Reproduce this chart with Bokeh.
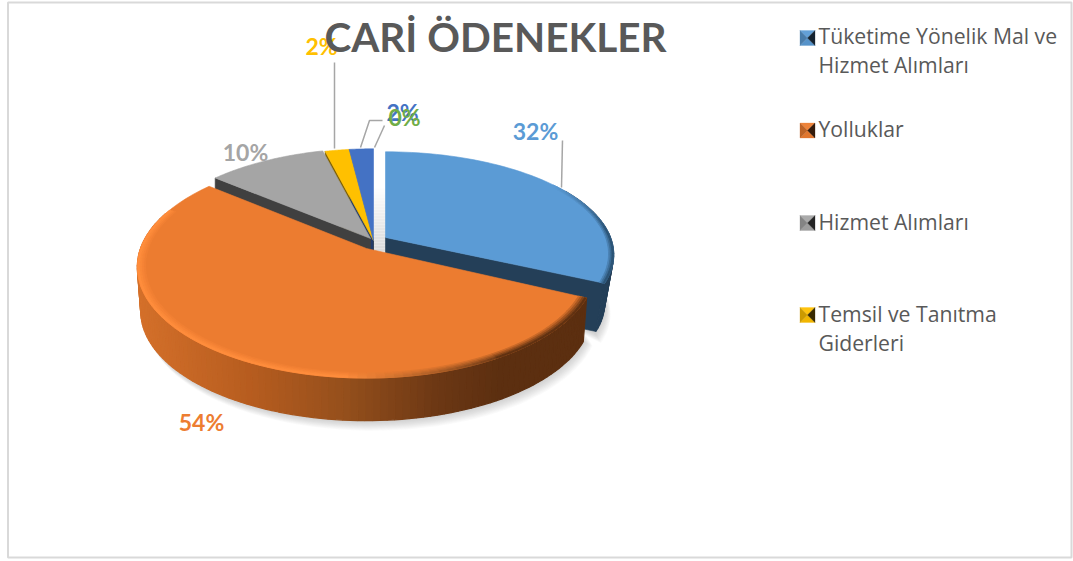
import math
from bokeh.plotting import figure
from bokeh.models import Range1d
from bokeh.core.properties import value
from bokeh.embed import file_html
from bokeh.resources import INLINE

# ---- chart data -------------------------------------------------------
title_text = "CARİ ÖDENEKLER"
percent_values = [32, 54, 10, 2, 2, 0]
percent_labels = ["32%", "54%", "10%", "2%", "2%", "0%"]
legend_names = ["Tüketime Yönelik Mal ve\nHizmet Alımları", "Yolluklar", "Hizmet Alımları",
                "Temsil ve Tanıtma\nGiderleri"]

# ---- styles and layout ------------------------------------------------
slice_colors = ["#5b9bd5", "#ec7c30", "#a5a5a5", "#ffc000", "#4472c4", "#70ad47"]
label_colors = ["#5b9bd5", "#ed7d31", "#a5a5a5", "#ffc000", "#4472c4", "#70ad47"]
face_colors = ["#243f58", "#5c2f10", "#404040", "#7f6000", "#223a68", "#38571f"]
# apex x, apex y, A, B of each exploded slice's perspective circle
geoms = [(385, 237, 225, 100), (366, 248, 226, 108), (370, 238, 223, 105),
         (373, 240, 226, 107), (373, 240, 226, 107), (374, 240, 226, 107)]
K = 1 / 6
DEPTHS = {0: 50, 1: 44.5}
SHRINKS = {0: 0.96, 1: 0.985}
FACE_DEPTH = 46
label_pos = [(535, 130), (201, 421), (245, 151), (321, 45), (402, 111), (404, 116)]
legend_y = [35, 127.5, 221, 313]
legend_marker_y = [37.5, 130, 222.5, 314.5]
MARKER_X, LEGEND_X, LINE_GAP, MH = 807, 818, 29, 7.5
GREY = "#595959"
LEADER = "#a6a6a6"


def hex2rgb(h):
    return tuple(int(h[i:i + 2], 16) for i in (1, 3, 5))


def mix(a, b, t):
    ca, cb = hex2rgb(a), hex2rgb(b)
    return "#%02x%02x%02x" % tuple(round(x + (y - x) * t) for x, y in zip(ca, cb))


def ramp(stops, x):
    if x <= stops[0][0]:
        return stops[0][1]
    for (x0, c0), (x1, c1) in zip(stops, stops[1:]):
        if x <= x1:
            return mix(c0, c1, (x - x0) / (x1 - x0))
    return stops[-1][1]


def proj(g, deg, r=1.0, drop=0.0, shrink=1.0):
    cx, cy, a, b = g
    t = math.radians(deg)
    u, v = r * math.sin(t), r * math.cos(t)
    w = 1 + K * v
    return cx + shrink * a * u / w, cy + drop - shrink * b * v / w


def arc(g, d0, d1, r=1.0, drop=0.0, shrink=1.0, n=60):
    pts = [proj(g, d0 + (d1 - d0) * i / n, r, drop, shrink) for i in range(n + 1)]
    return [q[0] for q in pts], [q[1] for q in pts]


p = figure(width=1073, height=561, output_backend="svg", toolbar_location=None,
           x_range=Range1d(0, 1073), y_range=Range1d(561, 0),
           x_axis_location=None, y_axis_location=None, min_border=0,
           outline_line_color=None, background_fill_color="#ffffff")
p.xgrid.visible = False
p.ygrid.visible = False

# chart area border
p.quad(left=[7.5], right=[1071], top=[2], bottom=[557], fill_color=None, line_color="#d9d9d9", line_width=2)

# slice angles
angles = []
acc = 0
for val in percent_values:
    angles.append((acc * 3.6, (acc + val) * 3.6))
    acc += val


def poly(xs, ys, color, alpha=1.0, lw=0.6):
    p.patch(xs, ys, fill_color=color, fill_alpha=alpha, line_color=color if lw else None,
            line_alpha=alpha, line_width=lw)


# soft shadows under the pie
for idx, extent in ((0, (85, 116)), (1, (112, 292))):
    g = geoms[idx]
    a0, a1 = extent
    for i in range(1, 11):
        xs, ys = arc(g, a0, a1, 1.0, DEPTHS[idx] + i * 1.0, SHRINKS[idx])
        xs = [x + i * 0.6 for x in xs]
        poly(xs + [g[0]], ys + [g[1]], "#7f7f7f", 0.035, 0)

# light band in the gap between the blue slices
gap_stops = [(185, "#ffffff"), (245, "#dcdcdc")]
for y in range(185, 252, 3):
    p.quad(left=[373], right=[386], top=[y], bottom=[y + 3], fill_color=ramp(gap_stops, y),
           line_color=None)


def cut_face(i, deg):
    g = geoms[i]
    rx, ry = proj(g, deg)
    bx, by = proj(g, deg, 1, DEPTHS.get(i, FACE_DEPTH), SHRINKS.get(i, 1.0))
    poly([g[0], rx, bx, g[0]], [g[1], ry, by, g[1] + DEPTHS.get(i, FACE_DEPTH)], face_colors[i])


def top(i):
    g = geoms[i]
    a0, a1 = angles[i]
    if a1 <= a0:
        return
    xs, ys = arc(g, a0, a1)
    poly(xs + [g[0]], ys + [g[1]], slice_colors[i])


def side(i, a0, a1, stops, n=70):
    g = geoms[i]
    for j in range(n):
        d0 = a0 + (a1 - a0) * j / n
        d1 = a0 + (a1 - a0) * (j + 1) / n
        x0, y0 = proj(g, d0)
        x1, y1 = proj(g, d1)
        x2, y2 = proj(g, d1, 1, DEPTHS[i], SHRINKS[i])
        x3, y3 = proj(g, d0, 1, DEPTHS[i], SHRINKS[i])
        c = ramp(stops, (x0 + x1) / 2)
        poly([x0, x1, x2, x3], [y0, y1, y2, y3], c, 1.0, 1.2)


def rim(i, a0, a1, edge_fn, width=0.03, bands=4, n=70):
    g = geoms[i]
    for b in range(bands):
        r0 = 1 - width * (bands - b) / bands
        r1 = 1 - width * (bands - b - 1) / bands
        t = (b + 1) / bands
        for j in range(n):
            d0 = a0 + (a1 - a0) * j / n
            d1 = a0 + (a1 - a0) * (j + 1) / n
            c = mix(slice_colors[i], edge_fn((d0 + d1) / 2), t)
            x0, y0 = proj(g, d0, r0)
            x1, y1 = proj(g, d1, r0)
            x2, y2 = proj(g, d1, r1)
            x3, y3 = proj(g, d0, r1)
            poly([x0, x1, x2, x3], [y0, y1, y2, y3], c, 1.0, 0.8)


# back slices: yellow, dark blue, grey
cut_face(3, angles[3][0])
cut_face(4, angles[4][0])
cut_face(2, angles[2][0])
top(2)
top(3)
top(4)

# main blue slice
cut_face(0, angles[0][1])
side(0, 60, angles[0][1], [(0, face_colors[0]), (1073, face_colors[0])], 30)
top(0)
rim(0, 55, angles[0][1],
    lambda d: mix("#5b9bd5", "#2c5476", min(1, max(0, (d - 55) / 30))), 0.022, 3, 40)

# orange slice
orange_side = [(136, "#d4702a"), (250, "#b65c1f"), (340, "#96501c"), (440, "#6b3714"), (500, "#5c2f10")]
side(1, angles[1][0], 290, orange_side, 110)
top(1)


def orange_edge(d):
    if d > 185:
        return "#ff8d3c"
    if d > 150:
        return mix("#6e3a16", "#ff8d3c", (d - 150) / 35)
    return "#5f3111"


rim(1, angles[1][0], 292, orange_edge, 0.035, 4, 90)

# leader lines
leaders_x = [[562, 561], [334, 334], [360, 369, 382], [374, 384]]
leaders_y = [[140, 187], [62, 148], [147, 120, 120], [147, 125]]
p.multi_line(leaders_x, leaders_y, line_color=LEADER, line_width=1.5)

# data labels
for i, lab in enumerate(percent_labels):
    p.text([label_pos[i][0]], [label_pos[i][1]], text=[lab], text_font=value("Lato"),
           text_font_style="bold", text_font_size="23px", text_color=label_colors[i],
           text_align="center", text_baseline="middle")

# title
p.text([495], [36], text=[title_text], text_font=value("Lato"), text_font_style="bold",
       text_font_size="40.5px", text_color=GREY, text_align="center", text_baseline="middle")

# legend
for i, name in enumerate(legend_names):
    col = slice_colors[i]
    cx, cy = MARKER_X, legend_marker_y[i]
    L, R, T, B = cx - MH, cx + MH, cy - MH, cy + MH
    tri = [([L, R, cx], [T, T, cy], mix(col, "#ffffff", 0.05)),
           ([L, R, cx], [B, B, cy], mix(col, "#000000", 0.05)),
           ([L, L, cx], [T, B, cy], mix(col, "#000000", 0.2)),
           ([R, R, cx], [T, B, cy], mix(col, "#000000", 0.78))]
    for xs, ys, c in tri:
        poly(xs, ys, c, 1.0, 0.3)
    for j, line in enumerate(name.split("\n")):
        p.text([LEGEND_X], [legend_y[i] + j * LINE_GAP], text=[line], text_font=value("Open Sans"),
               text_font_size="21.2px", text_color=GREY, text_align="left", text_baseline="middle")

open("out.html", "w").write(file_html(p, INLINE))
